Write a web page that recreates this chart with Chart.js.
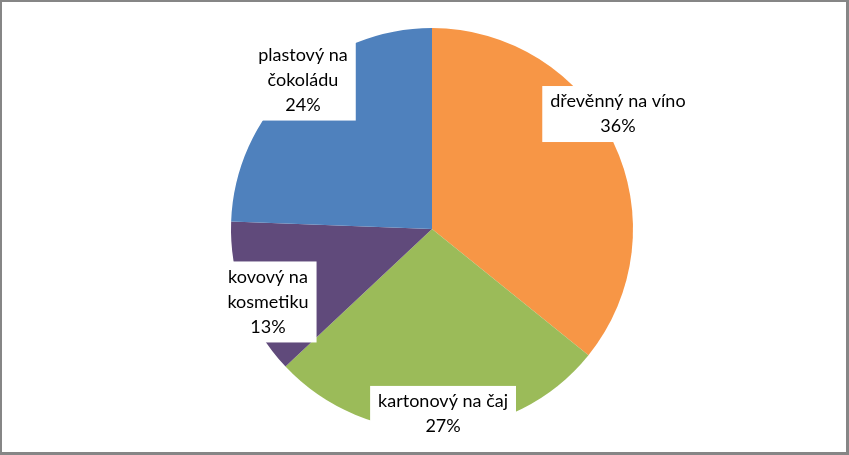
<!DOCTYPE html>
<html>
<head>
<meta charset="utf-8">
<script src="https://cdn.jsdelivr.net/npm/chart.js@4"></script>
<style>
  body { margin: 0; background: #fff; }
  #wrap { position: relative; width: 849px; height: 455px; }
  #myChart { position: absolute; left: 0; top: 0; }
  #frame { position: absolute; left: 0; top: 0; width: 849px; height: 455px; box-sizing: border-box;
           border-left: 2px solid #868686; border-top: 2px solid #868686;
           border-right: 3px solid #868686; border-bottom: 3px solid #868686; pointer-events: none; }
</style>
</head>
<body>
<div id="wrap">
  <canvas id="myChart" width="849" height="455"></canvas>
  <div id="frame"></div>
</div>
<script>
const labels = ['dřevěnný na víno', 'kartonový na čaj', 'kovový na kosmetiku', 'plastový na čokoládu'];
// shares (labels show them rounded)
const shares = [35.8, 27.2, 12.6, 24.4];
const colors = ['#F79646', '#9BBB59', '#604A7B', '#4F81BD'];
// how each category name wraps in its label box
const nameLines = [
    ['dřevěnný na víno'],
    ['kartonový na čaj'],
    ['kovový na', 'kosmetiku'],
    ['plastový na', 'čokoládu']
];
// where each label sits, as a fraction of the radius from the centre
const labelPos = [[0.925, -0.572], [0.055, 0.92], [-0.816, 0.363], [-0.642, -0.741]];

const boxLabels = {
    id: 'boxLabels',
    afterDatasetsDraw(chart) {
        const ctx = chart.ctx;
        const meta = chart.getDatasetMeta(0);
        const total = shares.reduce((a, b) => a + b, 0);
        ctx.save();
        ctx.font = '18px Lato';
        ctx.textAlign = 'center';
        ctx.textBaseline = 'middle';
        const lh = 25;
        meta.data.forEach((arc, i) => {
            const lines = nameLines[i].concat([Math.round(shares[i] / total * 100) + '%']);
            const cx = arc.x + labelPos[i][0] * arc.outerRadius;
            const cy = arc.y + labelPos[i][1] * arc.outerRadius;
            let w = 0;
            lines.forEach(l => { w = Math.max(w, ctx.measureText(l).width); });
            const h = lines.length * lh;
            ctx.fillStyle = '#ffffff';
            ctx.fillRect(cx - w / 2 - 8, cy - h / 2 - 3, w + 16, h + 6);
            ctx.fillStyle = '#000000';
            lines.forEach((l, j) => {
                ctx.fillText(l, cx, cy - h / 2 + lh / 2 + j * lh);
            });
        });
        ctx.restore();
    }
};

new Chart(document.getElementById('myChart'), {
    type: 'pie',
    data: {
        labels: labels,
        datasets: [{
            data: shares,
            backgroundColor: colors,
            borderWidth: 0
        }]
    },
    options: {
        responsive: false,
        animation: false,
        layout: { padding: { top: 28, bottom: 25, left: 15, right: 0 } },
        plugins: {
            legend: { display: false },
            tooltip: { enabled: false }
        }
    },
    plugins: [boxLabels]
});
</script>
</body>
</html>
